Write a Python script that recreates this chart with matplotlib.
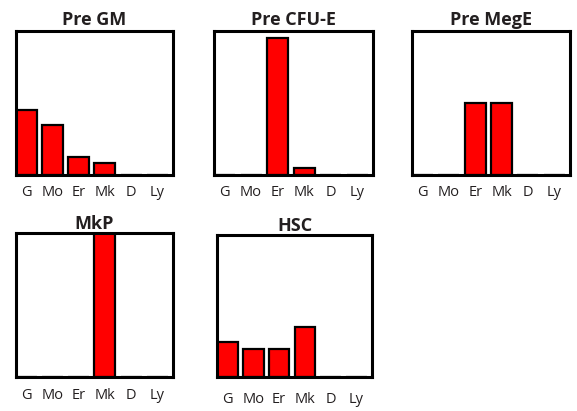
import matplotlib
matplotlib.use("Agg")
import matplotlib.pyplot as plt

categories = ["G", "Mo", "Er", "Mk", "D", "Ly"]
titles = ["Pre GM", "Pre CFU-E", "Pre MegE", "MkP", "HSC"]
pre_gm = [0.45, 0.35, 0.125, 0.08, 0.0, 0.0]
pre_cfue = [0.0, 0.0, 0.95, 0.05, 0.0, 0.0]
pre_mege = [0.0, 0.0, 0.5, 0.5, 0.0, 0.0]
mkp = [0.0, 0.0, 0.0, 1.0, 0.0, 0.0]
hsc = [0.245, 0.197, 0.197, 0.35, 0.0, 0.0]
series = [pre_gm, pre_cfue, pre_mege, mkp, hsc]

W, H = 577, 411
fig = plt.figure(figsize=(W / 100, H / 100), dpi=100)

# axes boxes in pixels: left, top, right, bottom
boxes = [
    (16, 31, 173, 175),
    (214, 31, 373, 175),
    (412, 31, 570, 175),
    (16, 233, 173, 377),
    (217, 235, 372, 377),
]
pads = [4, 4, 4, 1, 3]
lpads = [7, 7, 7, 8, 11]

font = ["Open Sans", "DejaVu Sans"]
for i, (title, vals, (l, t, r, b)) in enumerate(zip(titles, series, boxes)):
    ax = fig.add_axes([l / W, 1 - b / H, (r - l) / W, (b - t) / H])
    x = list(range(len(categories)))
    ax.bar(x, vals, width=0.8, color="#ff0000", edgecolor="black", linewidth=1.6, zorder=2)
    ax.set_xlim(-0.4, 5.6)
    ax.set_ylim(0, 1)
    ax.set_xticks(x)
    ax.set_xticklabels(categories, fontsize=10.5, color="#231f20", family=font)
    ax.set_yticks([])
    ax.tick_params(axis="x", length=0, pad=lpads[i])
    for s in ax.spines.values():
        s.set_linewidth(2.2)
        s.set_color("black")
        s.set_zorder(3)
    ax.set_title(title, fontsize=13, fontweight="bold", color="#231f20", family=font, pad=pads[i])

fig.savefig("out.png", dpi=100)
